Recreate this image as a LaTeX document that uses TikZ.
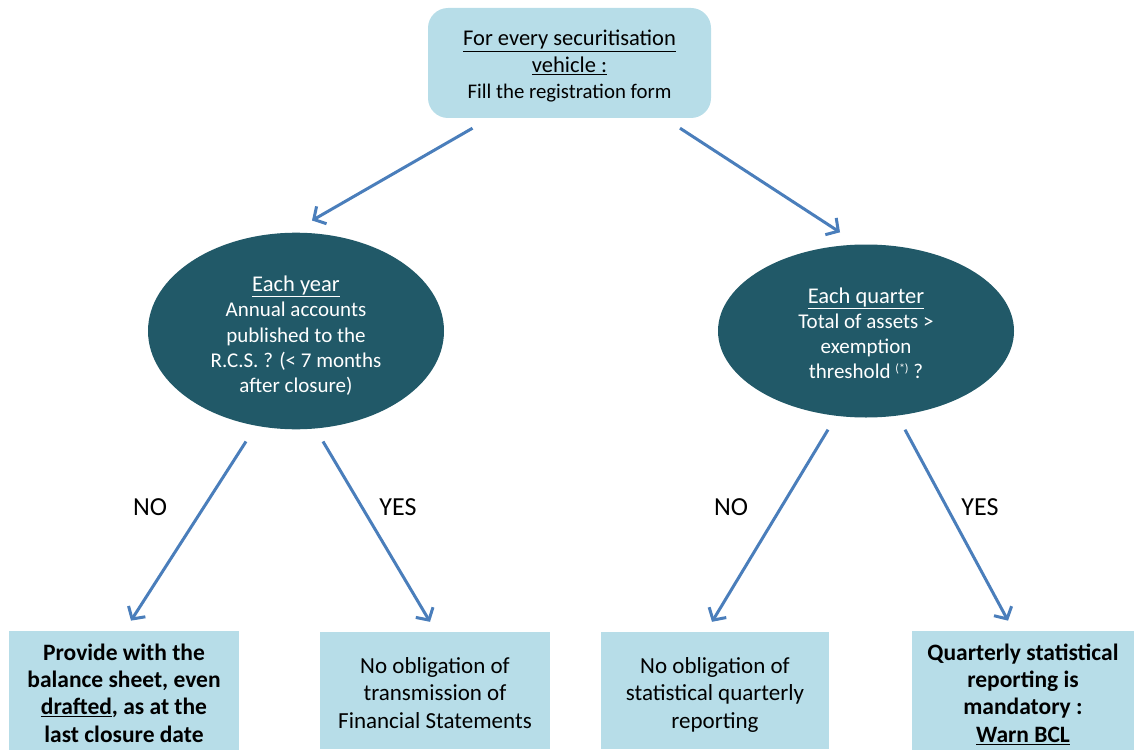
\documentclass[tikz,border=0pt]{standalone}
\usepackage{fontspec}
\setmainfont{Carlito}
\usetikzlibrary{arrows.meta,calc,shapes.geometric}
\definecolor{boxblue}{HTML}{B7DDE8}
\definecolor{ellteal}{HTML}{215968}
\definecolor{arrblue}{HTML}{4A7EBB}
\newcommand\tstr[1]{\vrule width 0pt height #1 depth 0pt\relax}
\newcommand\bstr{\vrule width 0pt height 0pt depth 8pt\relax}
\begin{document}
\begin{tikzpicture}[x=1pt,y=1pt,
  every node/.style={font=\fontsize{22.5}{26.5}\selectfont},
  topbox/.style={fill=boxblue,rounded corners=20pt,minimum width=283pt,minimum height=110pt,align=center,inner sep=0pt},
  ellnode/.style={ellipse,fill=ellteal,text=white,minimum width=296pt,minimum height=173pt,align=center,inner sep=0pt},
  botbox/.style={fill=boxblue,minimum height=117pt,align=center,inner sep=0pt,font=\fontsize{23}{27.5}\selectfont},
  boldbox/.style={botbox,font=\fontsize{23.5}{27.3}\selectfont\bfseries},
  arr/.style={draw=arrblue,line width=3pt,-{Straight Barb[length=9pt,width=20pt]}},
  lbl/.style={font=\fontsize{26}{28}\selectfont}]
\useasboundingbox (0,0) rectangle (1134,-749);
\node[topbox] (top) at (569.5,-63) {\tstr{27pt}\underline{For every securitisation}\\\underline{vehicle :}\\{\fontsize{20.8}{26.5}\selectfont Fill the registration form}\bstr};
\node[ellnode,font=\fontsize{21}{25.25}\selectfont] (yr) at (296,-331) {\tstr{30pt}{\fontsize{22.5}{25.25}\selectfont\underline{Each year}}\\Annual accounts\\published to the\\R.C.S. ? (< 7 months\\after closure)\bstr};
\node[ellnode,font=\fontsize{21}{25.2}\selectfont] (q) at (866,-331) {\tstr{28.3pt}{\fontsize{22.5}{25.2}\selectfont\underline{Each quarter}}\\Total of assets >\\exemption\\threshold {\fontsize{12}{12}\selectfont\raisebox{6pt}{(*)}} ?\bstr};
\node[boldbox,minimum width=230pt] (b1) at (124,-690.5) {\tstr{29.4pt}Provide with the\\balance sheet, even\\\underline{drafted}, as at the\\last closure date\bstr};
\node[botbox,minimum width=230pt] (b2) at (435,-690.5) {\tstr{28.8pt}No obligation of\\transmission of\\Financial Statements\bstr};
\node[botbox,minimum width=228pt] (b3) at (715,-690.5) {\tstr{28.8pt}No obligation of\\statistical quarterly\\reporting\bstr};
\node[boldbox,minimum width=222pt] (b4) at (1023,-690.5) {\tstr{29.4pt}Quarterly statistical\\reporting is\\mandatory :\\\underline{Warn BCL}\bstr};
\draw[arr] ($(top.south)+(-97,-10)$) -- ($(yr.north)+(16,12)$);
\draw[arr] ($(top.south)+(110.5,-10)$) -- ($(q.north)+(-26,12)$);
\draw[arr] ($(yr.south)+(-50,-12)$) -- ($(b1.north)+(7,10)$);
\draw[arr] ($(yr.south)+(27,-12)$) -- ($(b2.north)+(-5,10)$);
\draw[arr] ($(q.south)+(-38,-12)$) -- ($(b3.north)+(-3,10)$);
\draw[arr] ($(q.south)+(39,-12)$) -- ($(b4.north)+(-15,10)$);
\node[lbl] (no1) at (150,-507) {NO};
\node[lbl] (yes1) at (398,-507) {YES};
\node[lbl] (no2) at (731,-507) {NO};
\node[lbl] (yes2) at (980,-507) {YES};
\end{tikzpicture}
\end{document}
